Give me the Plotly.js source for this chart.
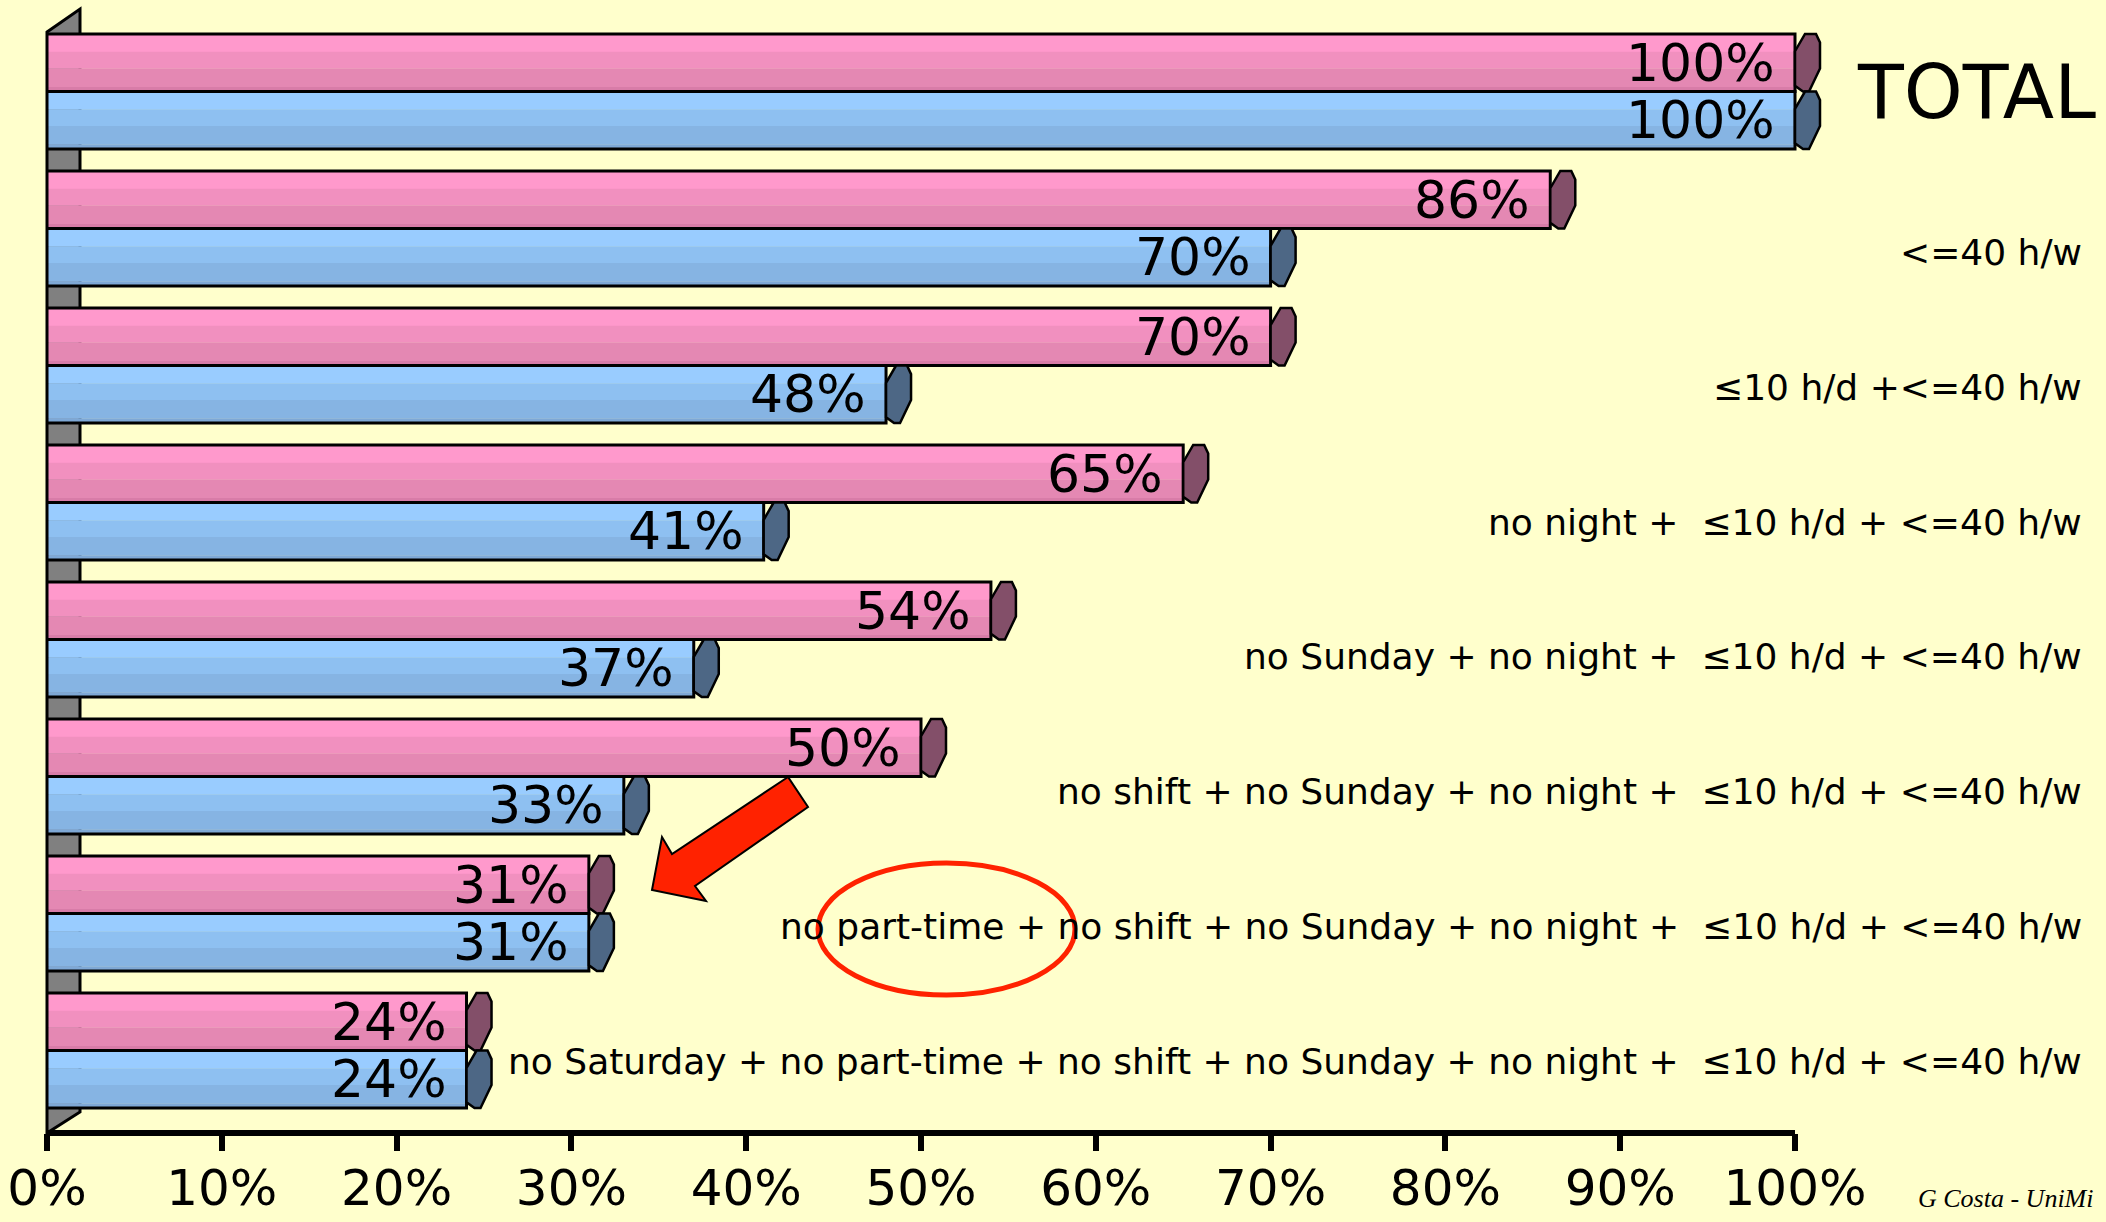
<!DOCTYPE html>
<html>
<head>
<meta charset="utf-8">
<script src="https://cdn.plot.ly/plotly-3.0.1.min.js"></script>
<style>
html,body{margin:0;padding:0;background:#FFFFCC;}
#chart{width:2106px;height:1222px;}
</style>
</head>
<body>
<div id="chart"></div>
<script>
// ---- data ----
const categories = [
  "TOTAL",
  "<=40 h/w",
  "≤10 h/d +<=40 h/w",
  "no night +  ≤10 h/d + <=40 h/w",
  "no Sunday + no night +  ≤10 h/d + <=40 h/w",
  "no shift + no Sunday + no night +  ≤10 h/d + <=40 h/w",
  "no part-time + no shift + no Sunday + no night +  ≤10 h/d + <=40 h/w",
  "no Saturday + no part-time + no shift + no Sunday + no night +  ≤10 h/d + <=40 h/w"
];
const pinkValues = [100, 86, 70, 65, 54, 50, 31, 24];
const blueValues = [100, 70, 48, 41, 37, 33, 31, 24];
const xTickVals = [0, 10, 20, 30, 40, 50, 60, 70, 80, 90, 100];
const xTickText = ["0%", "10%", "20%", "30%", "40%", "50%", "60%", "70%", "80%", "90%", "100%"];
const creditText = "G Costa - UniMi";

// ---- geometry / style ----
const W = 2106, Hpx = 1222;
const mL = 47, mT = 23, mB = 89;
const plotW = 1792, plotH = Hpx - mT - mB;
const pxPerUnit = 17.48;
const xMax = plotW / pxPerUnit;
const pitch = 137;
const yBottom = -0.5 + plotH / pitch;
const barW = 0.42;
const barPx = barW * pitch;

const fx = px => (px - mL) / plotW;
const fy = py => 1 - (py - mT) / plotH;

const yIdx = categories.map((c, i) => i);

const pinkBands = ["#FF99CC", "#F190BF", "#E488B3", "#D87CA8"];
const blueBands = ["#99CCFF", "#8EC0F1", "#86B4E3", "#7EA8D6"];
const bandStops = [0, 0.31, 0.60, 0.92, 1.0];
const pinkCap = "#834F69", blueCap = "#4D6785";

const traces = [];
function addBar(values, bands, baseOffset) {
  for (let k = 0; k < bands.length; k++) {
    traces.push({
      type: "bar", orientation: "h",
      x: values, y: yIdx,
      offset: baseOffset + bandStops[k] * barW,
      width: (bandStops[k + 1] - bandStops[k]) * barW + 0.002,
      marker: {color: bands[k], line: {width: 0}},
      hoverinfo: "skip", showlegend: false
    });
  }
  traces.push({
    type: "bar", orientation: "h",
    x: values, y: yIdx,
    offset: baseOffset, width: barW,
    marker: {color: "rgba(0,0,0,0)", line: {width: 3, color: "#000"}},
    hoverinfo: "skip", showlegend: false
  });
}
addBar(pinkValues, pinkBands, -barW);
addBar(blueValues, blueBands, 0);

const shapes = [];
// back wall
shapes.push({
  type: "path", xref: "paper", yref: "paper", layer: "below",
  path: `M ${fx(47)} ${fy(32)} L ${fx(80)} ${fy(9)} L ${fx(80)} ${fy(1112)} L ${fx(47)} ${fy(1133)} Z`,
  fillcolor: "#808080", line: {color: "#000", width: 3}
});
// axis line 0..100
shapes.push({
  type: "line", xref: "x", yref: "paper", x0: 0, x1: 100, y0: 0, y1: 0,
  line: {color: "#000", width: 6}, layer: "above"
});

// end caps of cylinders
function capPath(topUp) {
  const h = barPx;
  const pts = [[10,0],[21,0],[25,0.15],[25,0.6],[14,1],[8,1],[0,0.9],[0,0.3]];
  return "M " + pts.map(p => `${p[0]} ${topUp - p[1] * h}`).join(" L ") + " Z";
}
function addCaps(values, color, topUp) {
  values.forEach((v, i) => {
    shapes.push({
      type: "path", xref: "x", yref: "y",
      xsizemode: "pixel", ysizemode: "pixel",
      xanchor: v, yanchor: i,
      path: capPath(topUp),
      fillcolor: color, line: {color: "#000", width: 2.5}
    });
  });
}
addCaps(pinkValues, pinkCap, barPx);
addCaps(blueValues, blueCap, 0);

// red arrow
const arrowPts = [[788,777],[672,854],[662,837],[652,890],[706,901],[695,886],[808,807]];
shapes.push({
  type: "path", xref: "paper", yref: "paper",
  path: "M " + arrowPts.map(p => `${fx(p[0])} ${fy(p[1])}`).join(" L ") + " Z",
  fillcolor: "#FF2200", line: {color: "#000", width: 2}
});
// red ellipse
shapes.push({
  type: "circle", xref: "paper", yref: "paper",
  x0: fx(818), x1: fx(1075), y0: fy(995), y1: fy(863),
  line: {color: "#FF2200", width: 5}, fillcolor: "rgba(0,0,0,0)"
});

const annotations = [];
// value labels
pinkValues.forEach((v, i) => annotations.push({
  x: v, y: i, xref: "x", yref: "y", text: v + "%", showarrow: false,
  xanchor: "right", yanchor: "middle", xshift: -18, yshift: barPx / 2,
  font: {size: 52, color: "#000"}
}));
blueValues.forEach((v, i) => annotations.push({
  x: v, y: i, xref: "x", yref: "y", text: v + "%", showarrow: false,
  xanchor: "right", yanchor: "middle", xshift: -18, yshift: -barPx / 2,
  font: {size: 52, color: "#000"}
}));
// category labels (placed on their own slightly tighter back-plane pitch)
const labelTop = 252.5, labelPitch = 134.75;
categories.forEach((c, i) => {
  if (i === 0) {
    annotations.push({
      x: fx(1855), y: i, xref: "paper", yref: "y", text: c, showarrow: false,
      xanchor: "left", yanchor: "middle", yshift: 0,
      font: {size: 75, color: "#000"}
    });
  } else {
    annotations.push({
      x: fx(2084), y: fy(labelTop + (i - 1) * labelPitch), xref: "paper", yref: "paper",
      text: c, showarrow: false, xanchor: "right", yanchor: "middle",
      font: {size: 36, color: "#000"}
    });
  }
});
// credit
annotations.push({
  x: fx(1916), y: fy(1198), xref: "paper", yref: "paper", text: creditText,
  showarrow: false, xanchor: "left", yanchor: "middle",
  font: {size: 26, color: "#000", family: "Liberation Serif", style: "italic"}
});

const layout = {
  width: W, height: Hpx,
  paper_bgcolor: "#FFFFCC", plot_bgcolor: "#FFFFCC",
  margin: {l: mL, r: W - mL - plotW, t: mT, b: mB, pad: 0},
  font: {family: "DejaVu Sans", color: "#000"},
  barmode: "overlay",
  showlegend: false,
  xaxis: {
    range: [0, xMax], tickvals: xTickVals, ticktext: xTickText,
    showgrid: false, zeroline: false, showline: false,
    ticks: "outside", ticklen: 17, tickwidth: 6, tickcolor: "#000",
    ticklabelstandoff: -6,
    tickfont: {size: 50, color: "#000"}, fixedrange: true
  },
  yaxis: {
    range: [yBottom, -0.5], showgrid: false, zeroline: false, showline: false,
    showticklabels: false, ticks: "", fixedrange: true
  },
  shapes: shapes,
  annotations: annotations
};

Plotly.newPlot("chart", traces, layout, {staticPlot: true});
</script>
</body>
</html>
